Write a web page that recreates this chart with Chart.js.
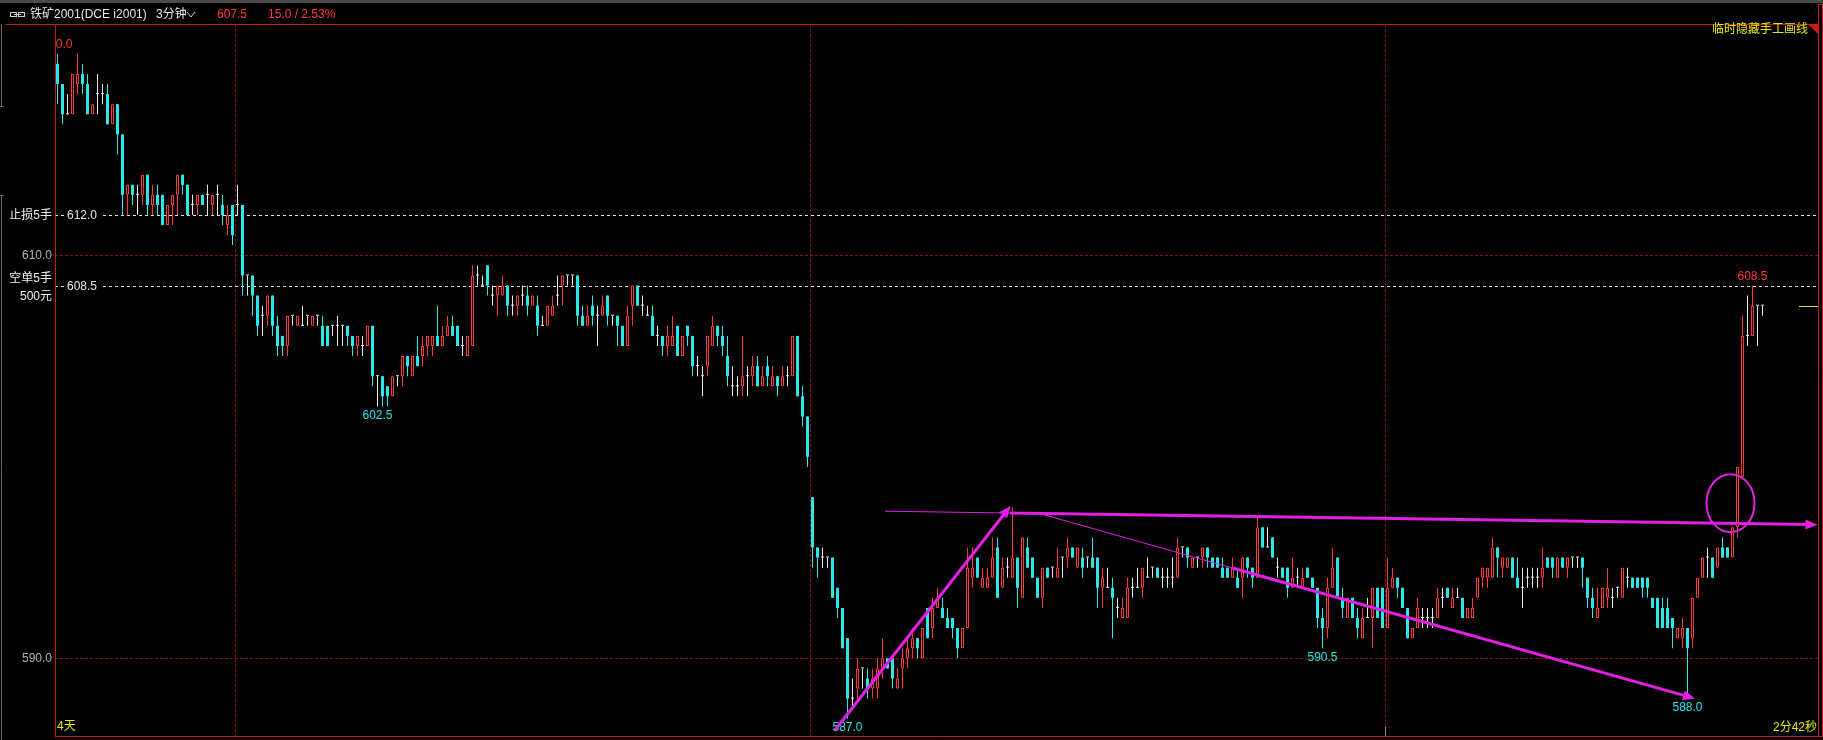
<!DOCTYPE html>
<html>
<head>
<meta charset="utf-8">
<script src="https://cdn.jsdelivr.net/npm/chart.js@4/dist/chart.umd.min.js"></script>
<style>
  html, body { margin: 0; padding: 0; background: #000; overflow: hidden; }
  #kline { display: block; }
</style>
</head>
<body>
<canvas id="kline" width="1823" height="740"></canvas>
<script>
// 铁矿2001 3-minute candles, 4 sessions (index 0 = first visible bar)
const opens = [
  619.5,618.5,617,617,618.5,619,618.5,617,618,618, 618,616.5,617.5,616,613,613.5,613,613,614,612.5,
  613,613,611.5,612.5,613,614,613.5,612.5,612.5,613, 613,612.5,613,612.5,611.5,612.5,
  612.5,612.5,609,609,608,607,607,608,606.5,606, 605.5,607,606.5,606.5,607,606.5,607,606.5,606.5,606.5,
  606.5,606.5,606.5,606,605.5,605.5,605.5,606.5,604,604, 603.5,603,604,604,605,604,605,605,605.5,605.5,
  606,605.5,606,606.5,606.5,605.5,605,605.5,609,608.5, 609.5,608,608,608,608.5,607.5,607.5,608,608,607.5,
  607.5,606.5,606.5,607,608,608.5,609,609,609,607, 606.5,607.5,607,607,608,607,607,606.5,605.5,607.5,
  608.5,607.5,607,607,606,606,605.5,605.5,606.5,605, 606.5,606,604.5,604,604.5,605.5,606.5,606,605,603.5,
  603.5,603.5,604,604,604.5,603.5,604.5,603.5,604,603.5, 604,604,606,603,602,
  598,595.5,595,595,595,593.5,592.5,591,588,588.5, 589.5,589,588.5,588.5,589.5,590,590,588.5,589.5,590,
  590.5,591,590,592.5,591.5,592.5,592.5,592,592,591.5, 590.5,591.5,594,595,593.5,593.5,594,595.5,593.5,594.5,
  594,595,593,595.5,595,594,593,594.5,594.5,594, 595,595,595.5,594.5,595,595,595,595,593.5,593.5,
  593.5,592.5,592,592,593.5,593.5,593.5,594,594.5,594.5, 594,594,594,594,595.5,595.5,594.5,595,595,595.5,
  595,595,594.5,594.5,594,594,594,595,594.5,594, 596.5,595.5,596,594.5,594.5,594.5,593.5,594,593.5,594.5,
  594,593.5,592,591.5,593.5,595,593,592,593,592, 591,592,592,593.5,593.5,
  591.5,593.5,594,593.5,592.5,591,591.5,592,592,592, 592,593,593.5,592.5,593,593,592,592,593,594,
  594,594,595.5,594.5,594.5,595,594,593.5,594,594, 594,594,595,595,594,595,594.5,595,595,595,
  594,593,592,592.5,593,593,593.5,593,594,594, 594,594,594,593,593,592.5,592.5,592,591,591,
  591.5,591,593,594,595,595,594.5,595.5,595.5,595, 596.5,599,606,606,607.5,607.5
];
const highs = [
  620,618.5,618,619,620,619.5,619,617.5,619,618.5, 618.5,617.5,617.5,616,613.5,613.5,613.5,614,614,613.5,
  613.5,613,612.5,613,614,614,613.5,613,613,613, 613.5,613,613.5,613,612.5,612.5,
  613.5,612.5,609,609,608,607.5,608,608,607,606, 607,607,607,607.5,607,607,607,607,606.5,606.5,
  607,606.5,606.5,606,606,606,606.5,606.5,604,604, 603.5,604,604,605,605,605,606,606,606,606,
  607.5,606.5,607,607,606.5,606,606,609.5,609.5,609, 609.5,608.5,608.5,609,608.5,608,608,608.5,608.5,608,
  608,607,607.5,608,609,609,609,609,609,607.5, 607.5,608,607.5,608,608,607,607,606.5,607.5,608.5,
  608.5,608,607.5,607.5,606.5,606,606.5,607,606.5,606, 606.5,606,605,604.5,606,607,606.5,606.5,606,604.5,
  604,606,604.5,605,605,604.5,605,604.5,604,604.5, 604.5,606,606,603.5,602,
  598,595.5,595.5,595,595,593.5,592.5,591,589,590, 589.5,589.5,589.5,590,591,590,590,589.5,590.5,591,
  591.5,591,591.5,592.5,593,593.5,593,592.5,592,591.5, 591.5,595.5,595.5,595,594.5,594.5,596,596,595,595,
  597.5,595,596,596,595,594,594.5,594.5,594.5,595.5, 595,596,595.5,595.5,595.5,595,596,595,594.5,594.5,
  594,593,593,594,594,594.5,594.5,595,594.5,594.5, 594.5,594.5,595,596,595.5,595.5,595,595,595.5,595.5,
  595,595,595,594.5,595,594.5,595,595,594.5,597, 596.5,596.5,596,595,594.5,594.5,595,594.5,594.5,594.5,
  594,593.5,592.5,594,595.5,595,593.5,593,593,592.5, 592.5,593,593.5,593.5,593.5,
  595,594.5,594,593.5,592.5,591.5,593,592.5,592.5,592.5, 593.5,593.5,593.5,593.5,593.5,593,592.5,593,594,594.5,
  594.5,596,595.5,595,595,595,595,594.5,594.5,594.5, 594.5,595.5,595,595,595,595,595,595,595,595,
  594,593.5,593.5,593.5,594.5,593.5,593.5,594.5,594.5,594, 594,594,594,593,593,593,593,592,591.5,592,
  591.5,593,594,595,595.5,595,595.5,596,595.5,596.5, 599.5,607,608,608.5,607.5,607.5
];
const lows = [
  617.5,616.5,617,617,618,618,617,617,617,617.5, 616.5,616.5,615,612,612,612.5,612,612.5,612,612,
  612,611.5,611.5,611.5,612,613,612,612,612,612.5, 612,612,612,611.5,611,610.5,
  612,608,608,607,606,606,606.5,606,605,605, 605,606.5,606.5,606.5,606.5,606.5,606.5,605.5,605.5,606,
  605.5,605.5,605.5,605,605,605,605.5,603.5,602.5,602.5, 602.5,603,603.5,603.5,604,604,604.5,604.5,605,605,
  605.5,605.5,606,606,605.5,605,605,605.5,608.5,608.5, 608,607.5,607,608,607,607,607,607.5,607,607.5,
  606,606.5,606.5,607,607.5,607.5,608.5,608.5,606.5,606.5, 606.5,606.5,605.5,607,606.5,606.5,605.5,605.5,605.5,606.5,
  607.5,607,607,606,605.5,605,605,605.5,605,605, 605.5,604,604,603,604,605.5,605.5,605,603.5,603,
  603,603,603,603.5,603.5,603.5,603.5,603.5,603,603.5, 603.5,604,603,601.5,599.5,
  594.5,594,594.5,594.5,593,592,590.5,587,587.5,588, 588.5,588,588,588,589,589.5,588.5,588.5,588.5,589.5,
  590,590,590,591,591,592.5,592,591.5,591,590, 590.5,591.5,593.5,594,593.5,593.5,594,593,593.5,594,
  594,592.5,593,594.5,594,593,592.5,594,594,594, 594,594.5,595,594.5,594,594.5,594.5,592.5,592.5,593.5,
  591,592,592,592,593,593.5,593,594,594,594, 593.5,593.5,593.5,594,595,594.5,594.5,594.5,594.5,594.5,
  594.5,594.5,594,594,594,593.5,593,594,593.5,594, 595.5,595.5,595,594,594,593,593.5,593.5,593.5,594,
  593.5,591.5,590.5,591,593.5,593,592,592,592,591, 591,592,590.5,592,591.5,
  591.5,593.5,593,592.5,591,591,591.5,591.5,591.5,591.5, 592,592.5,593,592.5,593,592,592,592,593,593.5,
  593.5,594,594,594,594.5,594,593.5,592.5,593.5,593.5, 593.5,593.5,594.5,594,594,594.5,594,594.5,594.5,593.5,
  592.5,592,592,592.5,592.5,592.5,593,593,593.5,593.5, 593.5,593,593,592.5,591.5,591.5,591.5,590.5,591,590.5,
  588,590.5,593,594,594,594,594.5,595,595,595, 596,599,605.5,606,605.5,607
];
const closes = [
  618.5,617,617,619,619,618.5,617,617.5,618,618, 616.5,617.5,616,613,613.5,613,613,614,612.5,613,
  612.5,611.5,612.5,613,614,613.5,612,612.5,613,612.5, 613,613,613,612,612,611,
  612.5,609,609,608,606.5,607,608,606.5,605.5,605.5, 607,607,607,606.5,607,607,607,605.5,605.5,606.5,
  606.5,606.5,606,605.5,606,605.5,606.5,604,604,603, 603,604,604,605,604.5,605,604.5,605.5,606,606,
  605.5,606,606.5,606,605.5,605.5,606,609,609,608.5, 608.5,608,608.5,608.5,607.5,607.5,608,608,607.5,608,
  606.5,606.5,607.5,607.5,608,609,609,609,607,606.5, 607,607,607,607.5,607,607,606.5,605.5,607,608.5,
  607.5,607.5,607,606,606,605.5,606,606,605,606, 606,604.5,604.5,604,606,606.5,606,605.5,604,603.5,
  603.5,604,604,604.5,603.5,604,604,604,603.5,604, 604,606,603,602,600,
  595.5,595,595,595,593,592.5,590.5,588,588,589.5, 589.5,588.5,589,589.5,590,589.5,589,589,590,590.5,
  591,590.5,591.5,591,592.5,593,592,591.5,591.5,590.5, 591.5,594.5,594.5,594,594,594,595,593,594.5,594.5,
  595,593.5,596,594.5,594,593,594.5,594,594.5,594.5, 595,595.5,595,595.5,594.5,595,594.5,593.5,594,593.5,
  593,592.5,592.5,593.5,593.5,593.5,594.5,594,594.5,594, 594,594,594,595.5,595.5,595,595,595,595.5,595,
  594.5,594.5,594,594,594.5,593.5,595,594.5,594,596.5, 595.5,595.5,595,594.5,594,593.5,594,594,594,594,
  593.5,592,591.5,593.5,594.5,593,592.5,593,592,591.5, 592,592,593.5,592,591.5,
  593.5,594,593.5,592.5,591,591.5,592.5,592,592,592, 593,593,593,593,593,592,592.5,592.5,594,594.5,
  594.5,595.5,595,595,595,594,593.5,593.5,594,594, 594,594.5,594.5,594.5,595,594.5,595,595,595,594.5,
  593,592.5,592.5,593.5,593.5,593,593.5,594.5,594,593.5, 593.5,593.5,593.5,592.5,591.5,591.5,591.5,591.5,591.5,591.5,
  590.5,593,594,595,595,594,595.5,595,595,596.5, 599.5,606,606,607.5,607.5,607.5
];

const yTicks = [590, 610];
const dayBreaks = [35.5, 150.5, 265.5];           // between sessions
const orderLines = [
  { price: 612.0, label: ['止损5手'] },
  { price: 608.5, label: ['空单5手', '500元'] }
];
// high / low markers: candle index + which end
const extremes = [
  { i: 0, side: 'high' }, { i: 64, side: 'low' }, { i: 158, side: 'low' },
  { i: 253, side: 'low' }, { i: 326, side: 'low' }, { i: 339, side: 'high' }
];
// hand drawn lines, [index, price]
const trendLines = [
  { from: [155.5, 586.44], to: [190.6, 597.56], w: 3, arrow: true },
  { from: [165.5, 597.30], to: [190.5, 597.21], w: 1, arrow: false },
  { from: [190.5, 597.21], to: [352.0, 596.63], w: 3, arrow: true },
  { from: [195.5, 597.25], to: [235.0, 594.48], w: 1, arrow: false },
  { from: [235.0, 594.48], to: [327.5, 588.00], w: 3, arrow: true }
];
const circleMark = { at: [334.6, 597.7], rx: 24, ry: 29 };

const title = '铁矿2001(DCE i2001)';
const period = '3分钟';
const lastPrice = '607.5';
const change = '15.0 / 2.53%';

const UP = '#ff3636', DOWN = '#2ae8e8', FLAT = '#e6e6e6';
const NUM_FONT = '12px "Liberation Sans", "Noto Sans CJK SC", sans-serif';
const idx = opens.map((_, i) => i);
const colorOf = idx.map(i => closes[i] > opens[i] ? UP : (closes[i] < opens[i] ? DOWN : FLAT));

function seg(ctx, x1, y1, x2, y2) {
  ctx.beginPath(); ctx.moveTo(x1, y1); ctx.lineTo(x2, y2); ctx.stroke();
}

function arrowLine(ctx, x1, y1, x2, y2, w, head) {
  const ang = Math.atan2(y2 - y1, x2 - x1);
  const c = Math.cos(ang), s = Math.sin(ang);
  ctx.lineWidth = w;
  ctx.beginPath();
  ctx.moveTo(x1, y1);
  ctx.lineTo(head ? x2 - c * 8 : x2, head ? y2 - s * 8 : y2);
  ctx.stroke();
  if (head) {
    const len = 12, half = 5;
    ctx.beginPath();
    ctx.moveTo(x2, y2);
    ctx.lineTo(x2 - c * len - s * half, y2 - s * len + c * half);
    ctx.lineTo(x2 - c * len + s * half, y2 - s * len - c * half);
    ctx.closePath();
    ctx.fill();
  }
}

const overlay = {
  id: 'overlay',
  beforeDatasetsDraw(chart) {
    const { ctx, chartArea: a, scales: { x, y } } = chart;
    ctx.save();
    ctx.lineWidth = 1;
    // session separators
    ctx.strokeStyle = '#8c1212';
    ctx.setLineDash([3, 2]);
    dayBreaks.forEach(d => {
      const px = Math.round(x.getPixelForValue(d)) + 0.5;
      seg(ctx, px, a.top, px, a.bottom);
    });
    // order lines
    ctx.strokeStyle = '#e6e6e6';
    ctx.setLineDash([3, 3]);
    orderLines.forEach(o => {
      const py = Math.round(y.getPixelForValue(o.price)) + 0.5;
      seg(ctx, a.left, py, a.right, py);
    });
    ctx.restore();
  },
  afterDatasetsDraw(chart) {
    const { ctx, chartArea: a, scales: { x, y } } = chart;
    ctx.save();
    // order line labels
    orderLines.forEach(o => {
      const py = Math.round(y.getPixelForValue(o.price)) + 0.5;
      ctx.fillStyle = '#000';
      ctx.fillRect(a.left + 9, py - 7, 36, 14);
      ctx.font = NUM_FONT;
      ctx.textBaseline = 'middle';
      ctx.textAlign = 'left';
      ctx.fillStyle = '#dfe8f2';
      ctx.fillText(o.price.toFixed(1), a.left + 12, py);
      ctx.textAlign = 'right';
      ctx.fillStyle = '#f0f0f0';
      if (o.label.length === 1) {
        ctx.fillText(o.label[0], a.left - 3, py);
      } else {
        ctx.fillText(o.label[0], a.left - 3, py - 8);
        ctx.fillText(o.label[1], a.left - 3, py + 10);
      }
    });

    // current price tick
    const lp = Math.round(y.getPixelForValue(closes[closes.length - 1])) + 0.5;
    ctx.strokeStyle = '#e6e600';
    ctx.lineWidth = 1;
    seg(ctx, a.right - 19, lp, a.right, lp);

    // extreme markers (clipped to plot)
    ctx.save();
    ctx.beginPath();
    ctx.rect(a.left, a.top, a.right - a.left, a.bottom - a.top);
    ctx.clip();
    ctx.font = NUM_FONT;
    ctx.textAlign = 'center';
    ctx.textBaseline = 'middle';
    extremes.forEach(e => {
      const v = e.side === 'high' ? highs[e.i] : lows[e.i];
      const px = x.getPixelForValue(e.i);
      const py = y.getPixelForValue(v);
      ctx.fillStyle = e.side === 'high' ? '#ff3636' : '#2ae8e8';
      ctx.fillText(v.toFixed(1), px, e.side === 'high' ? py - 9 : py + 9);
    });

    // hand drawn lines
    ctx.strokeStyle = '#e31fe3';
    ctx.fillStyle = '#e31fe3';
    ctx.lineCap = 'butt';
    trendLines.forEach(t => {
      arrowLine(ctx,
        x.getPixelForValue(t.from[0]), y.getPixelForValue(t.from[1]),
        x.getPixelForValue(t.to[0]), y.getPixelForValue(t.to[1]),
        t.w, t.arrow);
    });
    ctx.lineWidth = 2;
    ctx.beginPath();
    ctx.ellipse(x.getPixelForValue(circleMark.at[0]), y.getPixelForValue(circleMark.at[1]),
      circleMark.rx, circleMark.ry, 0, 0, Math.PI * 2);
    ctx.stroke();
    ctx.restore();
    ctx.restore();
  },
  afterDraw(chart) {
    const { ctx, chartArea: a, scales: { x } } = chart;
    const W = chart.width;
    ctx.save();
    // top strip
    ctx.fillStyle = '#4a4a4a';
    ctx.fillRect(0, 0, W, 3);
    // frame
    ctx.strokeStyle = '#c41c1c';
    ctx.lineWidth = 1;
    seg(ctx, 5, a.top + 0.5, a.right, a.top + 0.5);
    seg(ctx, a.left + 0.5, a.top, a.left + 0.5, a.bottom);
    seg(ctx, a.left, a.bottom + 0.5, a.right + 4, a.bottom + 0.5);
    seg(ctx, a.right + 0.5, 4, a.right + 0.5, a.bottom + 1);
    seg(ctx, a.right + 4.5, 4, a.right + 4.5, a.bottom + 1);
    seg(ctx, a.right, 4.5, a.right + 5, 4.5);
    // corner triangle
    ctx.fillStyle = '#d01818';
    ctx.beginPath();
    ctx.moveTo(a.right - 10, a.top);
    ctx.lineTo(a.right, a.top);
    ctx.lineTo(a.right, a.top + 10);
    ctx.closePath();
    ctx.fill();
    // left gray bracket
    ctx.strokeStyle = '#6a6a6a';
    seg(ctx, 1.5, 24, 1.5, 107);
    seg(ctx, 0, 106.5, 4, 106.5);
    seg(ctx, 1.5, 195, 1.5, 740);
    seg(ctx, 0, 195.5, 4, 195.5);
    // today marker at bottom
    const dx = Math.round(x.getPixelForValue(dayBreaks[dayBreaks.length - 1])) + 0.5;
    ctx.strokeStyle = '#8a8a8a';
    seg(ctx, dx, a.bottom - 9, dx, a.bottom);

    // header
    ctx.textBaseline = 'middle';
    ctx.textAlign = 'left';
    ctx.font = NUM_FONT;
    ctx.strokeStyle = '#d0d0d0';
    ctx.lineWidth = 1;
    ctx.strokeRect(10.5, 12.5, 6, 4);
    ctx.strokeRect(18.5, 12.5, 6, 4);
    seg(ctx, 14, 14.5, 21, 14.5);
    ctx.fillStyle = '#e8e8e8';
    ctx.fillText(title, 30, 15);
    ctx.fillText(period, 156, 15);
    seg(ctx, 187, 12, 191, 17);
    seg(ctx, 191, 17, 195, 12);
    ctx.fillStyle = '#ff3636';
    ctx.fillText(lastPrice, 217, 15);
    ctx.fillText(change, 268, 15);

    ctx.fillStyle = '#e8e800';
    ctx.textAlign = 'right';
    ctx.fillText('临时隐藏手工画线', a.right - 10, 30);
    ctx.fillText('2分42秒', a.right - 1, a.bottom - 8);
    ctx.textAlign = 'left';
    ctx.fillText('4天', a.left + 2, a.bottom - 9);
    ctx.restore();
  }
};

new Chart(document.getElementById('kline').getContext('2d'), {
  type: 'bar',
  data: {
    datasets: [
      {
        label: 'body',
        order: 0,
        data: idx.map(i => ({ x: i, y: [opens[i], closes[i]] })),
        backgroundColor: idx.map(i => colorOf[i] === UP ? '#000' : colorOf[i]),
        borderColor: colorOf,
        borderWidth: idx.map(i => colorOf[i] === UP ? 1 : 0),
        borderSkipped: false,
        barThickness: 3,
        minBarLength: 1,
        inflateAmount: 0,
        grouped: false
      },
      {
        label: 'wick',
        order: 1,
        data: idx.map(i => ({ x: i, y: [lows[i], highs[i]] })),
        backgroundColor: colorOf,
        borderWidth: 0,
        barThickness: 1,
        minBarLength: 1,
        inflateAmount: 0,
        grouped: false
      }
    ]
  },
  options: {
    responsive: false,
    animation: false,
    events: [],
    layout: { padding: { top: 24, right: 5, bottom: 4, left: 0 } },
    plugins: { legend: { display: false }, tooltip: { enabled: false } },
    scales: {
      x: { type: 'linear', min: -0.5, max: 352.1, display: false, offset: false },
      y: {
        type: 'linear',
        position: 'left',
        min: 586.144,
        max: 621.479,
        afterFit(s) { s.width = 55; s.paddingTop = 0; s.paddingBottom = 0; },
        afterBuildTicks(s) { s.ticks = yTicks.map(v => ({ value: v })); },
        ticks: {
          color: '#a9b3c2',
          padding: 3,
          font: { family: '"Liberation Sans", sans-serif', size: 12 },
          callback: v => Number(v).toFixed(1)
        },
        grid: { color: '#8c1212', lineWidth: 1, drawTicks: false },
        border: { display: false, dash: [3, 2] }
      }
    }
  },
  plugins: [overlay]
});
</script>
</body>
</html>
